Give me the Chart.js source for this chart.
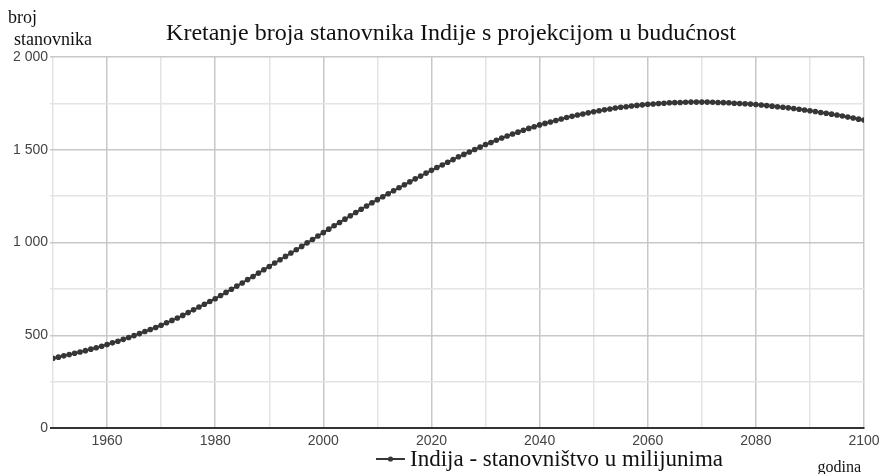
<!DOCTYPE html>
<html><head><meta charset="utf-8">
<script src="https://cdn.jsdelivr.net/npm/chart.js@4/dist/chart.umd.min.js"></script>
<style>html,body{margin:0;padding:0;background:#fff}#wrap{width:888px;height:474px;position:relative}</style>
</head><body><div id="wrap"><canvas id="c" width="888" height="474"></canvas></div>
<script>
const chartTitle = "Kretanje broja stanovnika Indije s projekcijom u budućnost";
const seriesLabel = "Indija - stanovništvo u milijunima";
const yAxisTitle = ["broj", "stanovnika"];
const xAxisTitle = "godina";
const years = [];
for (let y = 1950; y <= 2100; y++) years.push(y);
const population = [
376,382,389,396,403,410,417,425,433,441,
450,459,468,478,488,498,509,520,531,542,
554,567,580,593,607,622,637,652,667,682,
697,714,731,748,765,782,800,817,835,853,
871,889,907,925,943,961,979,998,1016,1035,
1053,1072,1090,1108,1126,1144,1162,1179,1197,1214,
1231,1247,1263,1279,1295,1311,1327,1343,1358,1374,
1389,1404,1418,1433,1447,1462,1475,1488,1501,1514,
1528,1539,1551,1563,1574,1585,1595,1605,1615,1624,
1634,1642,1650,1658,1666,1674,1680,1687,1693,1699,
1705,1710,1715,1720,1725,1729,1732,1736,1739,1742,
1745,1747,1749,1751,1753,1754,1755,1756,1757,1757,
1757,1757,1756,1755,1754,1753,1751,1749,1748,1746,
1744,1741,1738,1735,1732,1729,1726,1722,1718,1714,
1710,1706,1701,1697,1692,1687,1682,1676,1671,1665,
1660];
const xLabelYears = [1960, 1980, 2000, 2020, 2040, 2060, 2080, 2100];
const yLabelValues = [0, 500, 1000, 1500, 2000];

const serif = '"Liberation Serif", "Times New Roman", serif';
const sans = '"Liberation Sans", Arial, sans-serif';
const lineCol = '#363636';

const textPlugin = {
  id: 'texts',
  afterDraw(chart) {
    const ctx = chart.ctx;
    ctx.save();
    ctx.fillStyle = '#111';
    ctx.textBaseline = 'alphabetic';
    ctx.font = '24px ' + serif;
    ctx.textAlign = 'center';
    ctx.fillText(chartTitle, 451, 39.5);
    ctx.textAlign = 'left';
    ctx.font = '18px ' + serif;
    ctx.fillText(yAxisTitle[0], 8, 23);
    ctx.fillText(yAxisTitle[1], 14, 45);
    ctx.font = '16px ' + serif;
    ctx.textAlign = 'right';
    ctx.fillText(xAxisTitle, 861, 472);
    // legend
    ctx.strokeStyle = lineCol; ctx.lineWidth = 2;
    ctx.beginPath(); ctx.moveTo(376, 459); ctx.lineTo(405, 459); ctx.stroke();
    ctx.fillStyle = lineCol;
    ctx.beginPath(); ctx.arc(390.5, 459, 2.6, 0, Math.PI * 2); ctx.fill();
    ctx.fillStyle = '#111';
    ctx.textAlign = 'left';
    ctx.font = '23px ' + serif;
    ctx.fillText(seriesLabel, 410, 466);
    ctx.restore();
  }
};

new Chart(document.getElementById('c'), {
  type: 'line',
  data: {
    datasets: [{
      label: seriesLabel,
      data: years.map((y, i) => ({x: y, y: population[i]})),
      borderColor: lineCol,
      backgroundColor: lineCol,
      borderWidth: 2,
      pointRadius: 2.8,
      pointBorderWidth: 0,
      pointBackgroundColor: lineCol,
      tension: 0
    }]
  },
  options: {
    responsive: false,
    animation: false,
    layout: {padding: {left: 0, top: 57, right: 24, bottom: 0}},
    plugins: {legend: {display: false}, title: {display: false}, tooltip: {enabled: false}},
    scales: {
      x: {
        type: 'linear', min: 1950, max: 2100,
        afterFit: s => { s.height = 46; },
        ticks: {
          stepSize: 10, autoSkip: false, maxRotation: 0, padding: 5,
          color: '#444', font: {family: sans, size: 14},
          callback: v => xLabelYears.includes(v) ? String(v) : ''
        },
        grid: {
          drawTicks: false,
          color: c => (c.tick && c.tick.value % 20 === 0) ? '#c8c8c8' : '#e4e4e4',
          lineWidth: 1.5
        },
        border: {display: true, color: '#333', width: 2}
      },
      y: {
        min: 0, max: 2000,
        afterFit: s => { s.width = 53; },
        ticks: {
          stepSize: 250, autoSkip: false, padding: 2,
          color: '#444', font: {family: sans, size: 14},
          callback: v => yLabelValues.includes(v) ? (v >= 1000 ? Math.floor(v / 1000) + ' ' + String(v % 1000).padStart(3, '0') : String(v)) : ''
        },
        grid: {
          drawTicks: true, tickLength: 3,
          color: c => {
            const v = c.tick ? c.tick.value : -1;
            if (v === 0) return '#333';
            return v % 500 === 0 ? '#c8c8c8' : '#e4e4e4';
          },
          lineWidth: c => (c.tick && c.tick.value === 0) ? 2 : 1.5
        },
        border: {display: false}
      }
    }
  },
  plugins: [textPlugin]
});
</script></body></html>
